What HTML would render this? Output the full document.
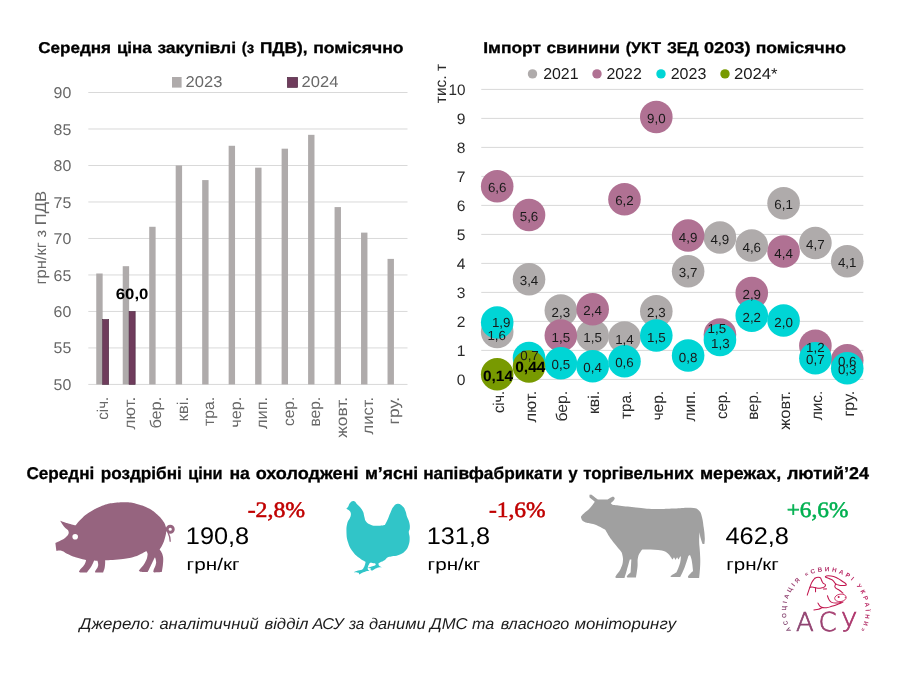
<!DOCTYPE html>
<html lang="uk"><head><meta charset="utf-8"><title>АСУ</title><style>html,body{margin:0;padding:0;background:#fff}svg{display:block}</style></head><body>
<svg width="919" height="681" viewBox="0 0 919 681" font-family='"Liberation Sans", sans-serif' text-rendering="geometricPrecision">
<rect width="919" height="681" fill="#fff"/>
<rect x="88.3" y="92.00" width="319.2" height="1" fill="#D9D9D9"/>
<text x="53.60" y="98.05" font-size="15.6" fill="#686868" textLength="17.70" lengthAdjust="spacingAndGlyphs">90</text>
<rect x="88.3" y="128.49" width="319.2" height="1" fill="#D9D9D9"/>
<text x="53.60" y="134.54" font-size="15.6" fill="#686868" textLength="17.70" lengthAdjust="spacingAndGlyphs">85</text>
<rect x="88.3" y="164.98" width="319.2" height="1" fill="#D9D9D9"/>
<text x="53.60" y="171.03" font-size="15.6" fill="#686868" textLength="17.70" lengthAdjust="spacingAndGlyphs">80</text>
<rect x="88.3" y="201.47" width="319.2" height="1" fill="#D9D9D9"/>
<text x="53.60" y="207.52" font-size="15.6" fill="#686868" textLength="17.70" lengthAdjust="spacingAndGlyphs">75</text>
<rect x="88.3" y="237.96" width="319.2" height="1" fill="#D9D9D9"/>
<text x="53.60" y="244.01" font-size="15.6" fill="#686868" textLength="17.70" lengthAdjust="spacingAndGlyphs">70</text>
<rect x="88.3" y="274.45" width="319.2" height="1" fill="#D9D9D9"/>
<text x="53.60" y="280.50" font-size="15.6" fill="#686868" textLength="17.70" lengthAdjust="spacingAndGlyphs">65</text>
<rect x="88.3" y="310.94" width="319.2" height="1" fill="#D9D9D9"/>
<text x="53.60" y="316.99" font-size="15.6" fill="#686868" textLength="17.70" lengthAdjust="spacingAndGlyphs">60</text>
<rect x="88.3" y="347.43" width="319.2" height="1" fill="#D9D9D9"/>
<text x="53.60" y="353.48" font-size="15.6" fill="#686868" textLength="17.70" lengthAdjust="spacingAndGlyphs">55</text>
<rect x="88.3" y="383.92" width="319.2" height="1" fill="#D9D9D9"/>
<text x="53.60" y="389.97" font-size="15.6" fill="#686868" textLength="17.70" lengthAdjust="spacingAndGlyphs">50</text>
<rect x="96.25" y="273.49" width="6.4" height="110.93" fill="#AFABAB"/>
<rect x="122.73" y="266.19" width="6.4" height="118.23" fill="#AFABAB"/>
<rect x="149.21" y="226.78" width="6.4" height="157.64" fill="#AFABAB"/>
<rect x="175.69" y="165.48" width="6.4" height="218.94" fill="#AFABAB"/>
<rect x="202.17" y="180.08" width="6.4" height="204.34" fill="#AFABAB"/>
<rect x="228.65" y="145.78" width="6.4" height="238.64" fill="#AFABAB"/>
<rect x="255.13" y="167.67" width="6.4" height="216.75" fill="#AFABAB"/>
<rect x="281.61" y="148.69" width="6.4" height="235.73" fill="#AFABAB"/>
<rect x="308.09" y="134.83" width="6.4" height="249.59" fill="#AFABAB"/>
<rect x="334.57" y="207.08" width="6.4" height="177.34" fill="#AFABAB"/>
<rect x="361.05" y="232.62" width="6.4" height="151.80" fill="#AFABAB"/>
<rect x="387.53" y="258.89" width="6.4" height="125.53" fill="#AFABAB"/>
<rect x="102.60" y="319.47" width="6.1" height="64.95" fill="#6F3C5C" stroke="#4B2740" stroke-width="0.6"/>
<rect x="129.08" y="311.44" width="6.1" height="72.98" fill="#6F3C5C" stroke="#4B2740" stroke-width="0.6"/>
<text x="108.10" y="419.70" font-size="15.6" fill="#686868" textLength="22.90" lengthAdjust="spacingAndGlyphs" transform="rotate(-90 108.10 419.70)">січ.</text>
<text x="134.59" y="429.50" font-size="15.6" fill="#686868" textLength="32.70" lengthAdjust="spacingAndGlyphs" transform="rotate(-90 134.59 429.50)">лют.</text>
<text x="161.08" y="428.60" font-size="15.6" fill="#686868" textLength="31.80" lengthAdjust="spacingAndGlyphs" transform="rotate(-90 161.08 428.60)">бер.</text>
<text x="187.57" y="421.60" font-size="15.6" fill="#686868" textLength="24.80" lengthAdjust="spacingAndGlyphs" transform="rotate(-90 187.57 421.60)">кві.</text>
<text x="214.06" y="425.90" font-size="15.6" fill="#686868" textLength="29.10" lengthAdjust="spacingAndGlyphs" transform="rotate(-90 214.06 425.90)">тра.</text>
<text x="240.55" y="427.80" font-size="15.6" fill="#686868" textLength="31.00" lengthAdjust="spacingAndGlyphs" transform="rotate(-90 240.55 427.80)">чер.</text>
<text x="267.04" y="429.10" font-size="15.6" fill="#686868" textLength="32.30" lengthAdjust="spacingAndGlyphs" transform="rotate(-90 267.04 429.10)">лип.</text>
<text x="293.53" y="425.90" font-size="15.6" fill="#686868" textLength="29.10" lengthAdjust="spacingAndGlyphs" transform="rotate(-90 293.53 425.90)">сер.</text>
<text x="320.02" y="426.60" font-size="15.6" fill="#686868" textLength="29.80" lengthAdjust="spacingAndGlyphs" transform="rotate(-90 320.02 426.60)">вер.</text>
<text x="346.51" y="437.80" font-size="15.6" fill="#686868" textLength="41.00" lengthAdjust="spacingAndGlyphs" transform="rotate(-90 346.51 437.80)">жовт.</text>
<text x="373.00" y="434.60" font-size="15.6" fill="#686868" textLength="37.80" lengthAdjust="spacingAndGlyphs" transform="rotate(-90 373.00 434.60)">лист.</text>
<text x="399.49" y="424.40" font-size="15.6" fill="#686868" textLength="27.60" lengthAdjust="spacingAndGlyphs" transform="rotate(-90 399.49 424.40)">гру.</text>
<text x="45.85" y="284.50" font-size="15.6" fill="#686868" textLength="93.50" lengthAdjust="spacingAndGlyphs" transform="rotate(-90 45.85 284.50)">грн/кг з ПДВ</text>
<rect x="172" y="77" width="9.6" height="10.6" fill="#AFABAB"/>
<text x="185.60" y="87.00" font-size="15.6" fill="#686868" textLength="36.80" lengthAdjust="spacingAndGlyphs">2023</text>
<rect x="287.3" y="77.3" width="10.4" height="10.2" fill="#6F3C5C" stroke="#4B2740" stroke-width="0.6"/>
<text x="301.60" y="87.00" font-size="15.6" fill="#686868" textLength="36.80" lengthAdjust="spacingAndGlyphs">2024</text>
<text x="115.80" y="298.75" font-size="15" fill="#000" textLength="32.60" lengthAdjust="spacingAndGlyphs" font-weight="bold">60,0</text>
<text x="38.15" y="53.00" font-size="15.7" fill="#000" textLength="72.95" lengthAdjust="spacingAndGlyphs" font-weight="bold" stroke="#000" stroke-width="0.3">Середня</text>
<text x="116.90" y="53.00" font-size="15.7" fill="#000" textLength="34.95" lengthAdjust="spacingAndGlyphs" font-weight="bold" stroke="#000" stroke-width="0.3">ціна</text>
<text x="157.40" y="53.00" font-size="15.7" fill="#000" textLength="78.70" lengthAdjust="spacingAndGlyphs" font-weight="bold" stroke="#000" stroke-width="0.3">закупівлі</text>
<text x="241.70" y="53.00" font-size="15.7" fill="#000" textLength="12.40" lengthAdjust="spacingAndGlyphs" font-weight="bold" stroke="#000" stroke-width="0.3">(з</text>
<text x="259.90" y="53.00" font-size="15.7" fill="#000" textLength="47.70" lengthAdjust="spacingAndGlyphs" font-weight="bold" stroke="#000" stroke-width="0.3">ПДВ),</text>
<text x="313.15" y="53.00" font-size="15.7" fill="#000" textLength="90.45" lengthAdjust="spacingAndGlyphs" font-weight="bold" stroke="#000" stroke-width="0.3">помісячно</text>
<rect x="481.25" y="378.90" width="382.1" height="1" fill="#D9D9D9"/>
<rect x="481.25" y="349.90" width="382.1" height="1" fill="#D9D9D9"/>
<rect x="481.25" y="320.90" width="382.1" height="1" fill="#D9D9D9"/>
<rect x="481.25" y="291.90" width="382.1" height="1" fill="#D9D9D9"/>
<rect x="481.25" y="262.90" width="382.1" height="1" fill="#D9D9D9"/>
<rect x="481.25" y="233.90" width="382.1" height="1" fill="#D9D9D9"/>
<rect x="481.25" y="204.90" width="382.1" height="1" fill="#D9D9D9"/>
<rect x="481.25" y="175.90" width="382.1" height="1" fill="#D9D9D9"/>
<rect x="481.25" y="146.90" width="382.1" height="1" fill="#D9D9D9"/>
<rect x="481.25" y="117.90" width="382.1" height="1" fill="#D9D9D9"/>
<rect x="481.25" y="88.90" width="382.1" height="1" fill="#D9D9D9"/>
<text x="465.40" y="384.95" font-size="15.2" fill="#2b2b2b" textLength="8.70" lengthAdjust="spacingAndGlyphs" text-anchor="end">0</text>
<text x="465.40" y="355.95" font-size="15.2" fill="#2b2b2b" textLength="8.70" lengthAdjust="spacingAndGlyphs" text-anchor="end">1</text>
<text x="465.40" y="326.95" font-size="15.2" fill="#2b2b2b" textLength="8.70" lengthAdjust="spacingAndGlyphs" text-anchor="end">2</text>
<text x="465.40" y="297.95" font-size="15.2" fill="#2b2b2b" textLength="8.70" lengthAdjust="spacingAndGlyphs" text-anchor="end">3</text>
<text x="465.40" y="268.95" font-size="15.2" fill="#2b2b2b" textLength="8.70" lengthAdjust="spacingAndGlyphs" text-anchor="end">4</text>
<text x="465.40" y="239.95" font-size="15.2" fill="#2b2b2b" textLength="8.70" lengthAdjust="spacingAndGlyphs" text-anchor="end">5</text>
<text x="465.40" y="210.95" font-size="15.2" fill="#2b2b2b" textLength="8.70" lengthAdjust="spacingAndGlyphs" text-anchor="end">6</text>
<text x="465.40" y="181.95" font-size="15.2" fill="#2b2b2b" textLength="8.70" lengthAdjust="spacingAndGlyphs" text-anchor="end">7</text>
<text x="465.40" y="152.95" font-size="15.2" fill="#2b2b2b" textLength="8.70" lengthAdjust="spacingAndGlyphs" text-anchor="end">8</text>
<text x="465.40" y="123.95" font-size="15.2" fill="#2b2b2b" textLength="8.70" lengthAdjust="spacingAndGlyphs" text-anchor="end">9</text>
<text x="465.40" y="94.95" font-size="15.2" fill="#2b2b2b" textLength="17.00" lengthAdjust="spacingAndGlyphs" text-anchor="end">10</text>
<text x="445.75" y="103.20" font-size="15.6" fill="#2b2b2b" textLength="39.20" lengthAdjust="spacingAndGlyphs" transform="rotate(-90 445.75 103.20)">тис. т</text>
<circle cx="497.20" cy="332.00" r="16.3" fill="#AFABAB"/>
<circle cx="529.02" cy="279.25" r="16.3" fill="#AFABAB"/>
<circle cx="560.84" cy="310.50" r="16.3" fill="#AFABAB"/>
<circle cx="592.66" cy="335.50" r="16.3" fill="#AFABAB"/>
<circle cx="624.48" cy="337.50" r="16.3" fill="#AFABAB"/>
<circle cx="656.30" cy="311.25" r="16.3" fill="#AFABAB"/>
<circle cx="688.12" cy="271.25" r="16.3" fill="#AFABAB"/>
<circle cx="719.94" cy="237.50" r="16.3" fill="#AFABAB"/>
<circle cx="751.76" cy="245.50" r="16.3" fill="#AFABAB"/>
<circle cx="783.58" cy="203.25" r="16.3" fill="#AFABAB"/>
<circle cx="815.40" cy="243.00" r="16.3" fill="#AFABAB"/>
<circle cx="847.22" cy="261.25" r="16.3" fill="#AFABAB"/>
<circle cx="497.20" cy="186.25" r="16.3" fill="#B07193"/>
<circle cx="529.02" cy="215.00" r="16.3" fill="#B07193"/>
<circle cx="560.84" cy="335.50" r="16.3" fill="#B07193"/>
<circle cx="592.66" cy="309.25" r="16.3" fill="#B07193"/>
<circle cx="624.48" cy="199.25" r="16.3" fill="#B07193"/>
<circle cx="656.30" cy="117.00" r="16.3" fill="#B07193"/>
<circle cx="688.12" cy="235.50" r="16.3" fill="#B07193"/>
<circle cx="719.94" cy="334.50" r="16.3" fill="#B07193"/>
<circle cx="751.76" cy="293.00" r="16.3" fill="#B07193"/>
<circle cx="783.58" cy="251.50" r="16.3" fill="#B07193"/>
<circle cx="815.40" cy="345.75" r="16.3" fill="#B07193"/>
<circle cx="847.22" cy="360.25" r="16.3" fill="#B07193"/>
<circle cx="497.20" cy="322.50" r="16.3" fill="#00D5D5"/>
<circle cx="529.02" cy="358.00" r="16.3" fill="#00D5D5"/>
<circle cx="560.84" cy="363.25" r="16.3" fill="#00D5D5"/>
<circle cx="592.66" cy="366.25" r="16.3" fill="#00D5D5"/>
<circle cx="624.48" cy="361.25" r="16.3" fill="#00D5D5"/>
<circle cx="656.30" cy="335.50" r="16.3" fill="#00D5D5"/>
<circle cx="688.12" cy="355.50" r="16.3" fill="#00D5D5"/>
<circle cx="719.94" cy="340.00" r="16.3" fill="#00D5D5"/>
<circle cx="751.76" cy="315.75" r="16.3" fill="#00D5D5"/>
<circle cx="783.58" cy="320.50" r="16.3" fill="#00D5D5"/>
<circle cx="815.40" cy="358.25" r="16.3" fill="#00D5D5"/>
<circle cx="847.22" cy="368.25" r="16.3" fill="#00D5D5"/>
<circle cx="497.20" cy="374.25" r="16.3" fill="#789A01"/>
<circle cx="529.02" cy="366.50" r="16.3" fill="#789A01"/>
<text x="496.70" y="339.70" font-size="13.2" fill="#1a1a1a" textLength="18.60" lengthAdjust="spacingAndGlyphs" text-anchor="middle">1,6</text>
<text x="529.02" y="285.45" font-size="13.2" fill="#1a1a1a" textLength="18.60" lengthAdjust="spacingAndGlyphs" text-anchor="middle">3,4</text>
<text x="560.84" y="316.70" font-size="13.2" fill="#1a1a1a" textLength="18.60" lengthAdjust="spacingAndGlyphs" text-anchor="middle">2,3</text>
<text x="592.66" y="341.70" font-size="13.2" fill="#1a1a1a" textLength="18.60" lengthAdjust="spacingAndGlyphs" text-anchor="middle">1,5</text>
<text x="624.48" y="343.70" font-size="13.2" fill="#1a1a1a" textLength="18.60" lengthAdjust="spacingAndGlyphs" text-anchor="middle">1,4</text>
<text x="656.30" y="317.45" font-size="13.2" fill="#1a1a1a" textLength="18.60" lengthAdjust="spacingAndGlyphs" text-anchor="middle">2,3</text>
<text x="688.12" y="277.45" font-size="13.2" fill="#1a1a1a" textLength="18.60" lengthAdjust="spacingAndGlyphs" text-anchor="middle">3,7</text>
<text x="719.94" y="243.70" font-size="13.2" fill="#1a1a1a" textLength="18.60" lengthAdjust="spacingAndGlyphs" text-anchor="middle">4,9</text>
<text x="751.76" y="251.70" font-size="13.2" fill="#1a1a1a" textLength="18.60" lengthAdjust="spacingAndGlyphs" text-anchor="middle">4,6</text>
<text x="783.58" y="209.45" font-size="13.2" fill="#1a1a1a" textLength="18.60" lengthAdjust="spacingAndGlyphs" text-anchor="middle">6,1</text>
<text x="815.40" y="249.20" font-size="13.2" fill="#1a1a1a" textLength="18.60" lengthAdjust="spacingAndGlyphs" text-anchor="middle">4,7</text>
<text x="847.22" y="267.45" font-size="13.2" fill="#1a1a1a" textLength="18.60" lengthAdjust="spacingAndGlyphs" text-anchor="middle">4,1</text>
<text x="497.20" y="192.45" font-size="13.2" fill="#1a1a1a" textLength="18.60" lengthAdjust="spacingAndGlyphs" text-anchor="middle">6,6</text>
<text x="529.02" y="221.20" font-size="13.2" fill="#1a1a1a" textLength="18.60" lengthAdjust="spacingAndGlyphs" text-anchor="middle">5,6</text>
<text x="560.84" y="341.70" font-size="13.2" fill="#1a1a1a" textLength="18.60" lengthAdjust="spacingAndGlyphs" text-anchor="middle">1,5</text>
<text x="592.66" y="315.45" font-size="13.2" fill="#1a1a1a" textLength="18.60" lengthAdjust="spacingAndGlyphs" text-anchor="middle">2,4</text>
<text x="624.48" y="205.45" font-size="13.2" fill="#1a1a1a" textLength="18.60" lengthAdjust="spacingAndGlyphs" text-anchor="middle">6,2</text>
<text x="656.30" y="123.20" font-size="13.2" fill="#1a1a1a" textLength="18.60" lengthAdjust="spacingAndGlyphs" text-anchor="middle">9,0</text>
<text x="688.12" y="241.70" font-size="13.2" fill="#1a1a1a" textLength="18.60" lengthAdjust="spacingAndGlyphs" text-anchor="middle">4,9</text>
<text x="716.94" y="332.70" font-size="13.2" fill="#1a1a1a" textLength="18.60" lengthAdjust="spacingAndGlyphs" text-anchor="middle">1,5</text>
<text x="751.76" y="299.20" font-size="13.2" fill="#1a1a1a" textLength="18.60" lengthAdjust="spacingAndGlyphs" text-anchor="middle">2,9</text>
<text x="783.58" y="257.70" font-size="13.2" fill="#1a1a1a" textLength="18.60" lengthAdjust="spacingAndGlyphs" text-anchor="middle">4,4</text>
<text x="815.40" y="351.95" font-size="13.2" fill="#1a1a1a" textLength="18.60" lengthAdjust="spacingAndGlyphs" text-anchor="middle">1,2</text>
<text x="847.22" y="366.45" font-size="13.2" fill="#1a1a1a" textLength="18.60" lengthAdjust="spacingAndGlyphs" text-anchor="middle">0,6</text>
<text x="501.20" y="326.70" font-size="13.2" fill="#1a1a1a" textLength="18.60" lengthAdjust="spacingAndGlyphs" text-anchor="middle">1,9</text>
<text x="529.52" y="360.20" font-size="13.2" fill="#1a1a1a" textLength="18.60" lengthAdjust="spacingAndGlyphs" text-anchor="middle">0,7</text>
<text x="560.84" y="369.45" font-size="13.2" fill="#1a1a1a" textLength="18.60" lengthAdjust="spacingAndGlyphs" text-anchor="middle">0,5</text>
<text x="592.66" y="372.45" font-size="13.2" fill="#1a1a1a" textLength="18.60" lengthAdjust="spacingAndGlyphs" text-anchor="middle">0,4</text>
<text x="624.48" y="367.45" font-size="13.2" fill="#1a1a1a" textLength="18.60" lengthAdjust="spacingAndGlyphs" text-anchor="middle">0,6</text>
<text x="656.30" y="341.70" font-size="13.2" fill="#1a1a1a" textLength="18.60" lengthAdjust="spacingAndGlyphs" text-anchor="middle">1,5</text>
<text x="688.12" y="361.70" font-size="13.2" fill="#1a1a1a" textLength="18.60" lengthAdjust="spacingAndGlyphs" text-anchor="middle">0,8</text>
<text x="720.34" y="347.70" font-size="13.2" fill="#1a1a1a" textLength="18.60" lengthAdjust="spacingAndGlyphs" text-anchor="middle">1,3</text>
<text x="751.76" y="321.95" font-size="13.2" fill="#1a1a1a" textLength="18.60" lengthAdjust="spacingAndGlyphs" text-anchor="middle">2,2</text>
<text x="783.58" y="326.70" font-size="13.2" fill="#1a1a1a" textLength="18.60" lengthAdjust="spacingAndGlyphs" text-anchor="middle">2,0</text>
<text x="815.40" y="364.45" font-size="13.2" fill="#1a1a1a" textLength="18.60" lengthAdjust="spacingAndGlyphs" text-anchor="middle">0,7</text>
<text x="847.22" y="374.45" font-size="13.2" fill="#1a1a1a" textLength="18.60" lengthAdjust="spacingAndGlyphs" text-anchor="middle">0,3</text>
<text x="483.00" y="380.60" font-size="15" fill="#000" textLength="30.00" lengthAdjust="spacingAndGlyphs" font-weight="bold">0,14</text>
<text x="515.20" y="372.30" font-size="15" fill="#000" textLength="30.30" lengthAdjust="spacingAndGlyphs" font-weight="bold">0,44</text>
<text x="503.80" y="413.10" font-size="15.6" fill="#2b2b2b" textLength="22.30" lengthAdjust="spacingAndGlyphs" transform="rotate(-90 503.80 413.10)">січ.</text>
<text x="535.62" y="422.50" font-size="15.6" fill="#2b2b2b" textLength="31.70" lengthAdjust="spacingAndGlyphs" transform="rotate(-90 535.62 422.50)">лют.</text>
<text x="567.44" y="421.60" font-size="15.6" fill="#2b2b2b" textLength="30.80" lengthAdjust="spacingAndGlyphs" transform="rotate(-90 567.44 421.60)">бер.</text>
<text x="599.26" y="414.10" font-size="15.6" fill="#2b2b2b" textLength="23.30" lengthAdjust="spacingAndGlyphs" transform="rotate(-90 599.26 414.10)">кві.</text>
<text x="631.08" y="419.10" font-size="15.6" fill="#2b2b2b" textLength="28.30" lengthAdjust="spacingAndGlyphs" transform="rotate(-90 631.08 419.10)">тра.</text>
<text x="662.90" y="420.60" font-size="15.6" fill="#2b2b2b" textLength="29.80" lengthAdjust="spacingAndGlyphs" transform="rotate(-90 662.90 420.60)">чер.</text>
<text x="694.72" y="421.60" font-size="15.6" fill="#2b2b2b" textLength="30.80" lengthAdjust="spacingAndGlyphs" transform="rotate(-90 694.72 421.60)">лип.</text>
<text x="726.54" y="419.10" font-size="15.6" fill="#2b2b2b" textLength="28.30" lengthAdjust="spacingAndGlyphs" transform="rotate(-90 726.54 419.10)">сер.</text>
<text x="758.36" y="419.80" font-size="15.6" fill="#2b2b2b" textLength="29.00" lengthAdjust="spacingAndGlyphs" transform="rotate(-90 758.36 419.80)">вер.</text>
<text x="790.18" y="429.80" font-size="15.6" fill="#2b2b2b" textLength="39.00" lengthAdjust="spacingAndGlyphs" transform="rotate(-90 790.18 429.80)">жовт.</text>
<text x="822.00" y="420.30" font-size="15.6" fill="#2b2b2b" textLength="29.50" lengthAdjust="spacingAndGlyphs" transform="rotate(-90 822.00 420.30)">лис.</text>
<text x="853.82" y="416.60" font-size="15.6" fill="#2b2b2b" textLength="25.80" lengthAdjust="spacingAndGlyphs" transform="rotate(-90 853.82 416.60)">гру.</text>
<circle cx="532.5" cy="73.9" r="4.7" fill="#AFABAB"/>
<circle cx="597" cy="73.9" r="4.7" fill="#B07193"/>
<circle cx="661" cy="73.9" r="4.7" fill="#00D5D5"/>
<circle cx="725" cy="73.9" r="4.7" fill="#789A01"/>
<text x="543.15" y="78.90" font-size="15.6" fill="#1a1a1a" textLength="35.45" lengthAdjust="spacingAndGlyphs">2021</text>
<text x="606.40" y="78.90" font-size="15.6" fill="#1a1a1a" textLength="35.45" lengthAdjust="spacingAndGlyphs">2022</text>
<text x="670.65" y="78.90" font-size="15.6" fill="#1a1a1a" textLength="35.70" lengthAdjust="spacingAndGlyphs">2023</text>
<text x="733.90" y="78.90" font-size="15.6" fill="#1a1a1a" textLength="43.70" lengthAdjust="spacingAndGlyphs">2024*</text>
<text x="483.15" y="53.00" font-size="15.7" fill="#000" textLength="57.95" lengthAdjust="spacingAndGlyphs" font-weight="bold" stroke="#000" stroke-width="0.3">Імпорт</text>
<text x="546.40" y="53.00" font-size="15.7" fill="#000" textLength="73.70" lengthAdjust="spacingAndGlyphs" font-weight="bold" stroke="#000" stroke-width="0.3">свинини</text>
<text x="625.65" y="53.00" font-size="15.7" fill="#000" textLength="35.45" lengthAdjust="spacingAndGlyphs" font-weight="bold" stroke="#000" stroke-width="0.3">(УКТ</text>
<text x="666.90" y="53.00" font-size="15.7" fill="#000" textLength="31.70" lengthAdjust="spacingAndGlyphs" font-weight="bold" stroke="#000" stroke-width="0.3">ЗЕД</text>
<text x="703.90" y="53.00" font-size="15.7" fill="#000" textLength="46.70" lengthAdjust="spacingAndGlyphs" font-weight="bold" stroke="#000" stroke-width="0.3">0203)</text>
<text x="755.65" y="53.00" font-size="15.7" fill="#000" textLength="90.45" lengthAdjust="spacingAndGlyphs" font-weight="bold" stroke="#000" stroke-width="0.3">помісячно</text>
<text x="26.40" y="479.25" font-size="17.1" fill="#000" textLength="67.95" lengthAdjust="spacingAndGlyphs" font-weight="bold" stroke="#000" stroke-width="0.3">Середні</text>
<text x="100.65" y="479.25" font-size="17.1" fill="#000" textLength="81.20" lengthAdjust="spacingAndGlyphs" font-weight="bold" stroke="#000" stroke-width="0.3">роздрібні</text>
<text x="188.15" y="479.25" font-size="17.1" fill="#000" textLength="34.45" lengthAdjust="spacingAndGlyphs" font-weight="bold" stroke="#000" stroke-width="0.3">ціни</text>
<text x="229.40" y="479.25" font-size="17.1" fill="#000" textLength="20.50" lengthAdjust="spacingAndGlyphs" font-weight="bold" stroke="#000" stroke-width="0.3">на</text>
<text x="255.65" y="479.25" font-size="17.1" fill="#000" textLength="102.95" lengthAdjust="spacingAndGlyphs" font-weight="bold" stroke="#000" stroke-width="0.3">охолоджені</text>
<text x="364.90" y="479.25" font-size="17.1" fill="#000" textLength="53.20" lengthAdjust="spacingAndGlyphs" font-weight="bold" stroke="#000" stroke-width="0.3">м’ясні</text>
<text x="423.15" y="479.25" font-size="17.1" fill="#000" textLength="139.45" lengthAdjust="spacingAndGlyphs" font-weight="bold" stroke="#000" stroke-width="0.3">напівфабрикати</text>
<text x="568.15" y="479.25" font-size="17.1" fill="#000" textLength="9.45" lengthAdjust="spacingAndGlyphs" font-weight="bold" stroke="#000" stroke-width="0.3">у</text>
<text x="583.15" y="479.25" font-size="17.1" fill="#000" textLength="110.45" lengthAdjust="spacingAndGlyphs" font-weight="bold" stroke="#000" stroke-width="0.3">торгівельних</text>
<text x="699.90" y="479.25" font-size="17.1" fill="#000" textLength="81.20" lengthAdjust="spacingAndGlyphs" font-weight="bold" stroke="#000" stroke-width="0.3">мережах,</text>
<text x="786.90" y="479.25" font-size="17.1" fill="#000" textLength="82.20" lengthAdjust="spacingAndGlyphs" font-weight="bold" stroke="#000" stroke-width="0.3">лютий’24</text>
<path d="M60.19 520.75C60.19 520.75 64.28 522.25 67.68 523.29C71.15 524.35 75.46 525.41 75.46 525.41C75.46 525.41 78.98 520.75 82.54 517.63C86.66 514.03 87.72 513.33 92.44 510.56C97.30 507.71 98.42 507.02 103.76 505.19C108.68 503.49 109.91 503.43 115.07 502.78C120.13 502.15 121.30 502.04 126.39 502.36C131.54 502.68 132.72 502.86 137.71 504.20C142.96 505.61 144.23 505.87 149.02 508.44C153.23 510.69 153.96 511.61 157.51 514.80C160.36 517.37 160.96 518.04 163.17 521.17C164.68 523.31 165.03 523.88 165.72 526.40C166.39 528.87 166.33 529.52 166.14 532.06C165.94 534.85 165.64 535.46 164.87 538.15C163.98 541.20 163.80 541.91 162.46 544.79C161.43 547.02 159.63 549.46 159.63 549.46C159.63 549.46 161.74 551.95 162.46 554.41C163.37 557.48 163.30 558.29 163.17 561.49C162.98 566.30 161.76 572.10 161.76 572.10C161.76 572.10 154.68 572.52 154.68 572.52C154.68 572.52 153.15 572.20 153.27 571.39C153.74 568.18 155.62 566.90 156.10 562.90C156.41 560.32 154.97 557.24 154.97 557.24C154.97 557.24 153.40 560.35 152.14 562.90C150.09 567.04 147.61 572.10 147.61 572.10C147.61 572.10 140.25 571.67 140.25 571.67C140.25 571.67 138.48 571.37 138.84 570.68C140.35 567.76 142.69 566.78 144.78 562.90C146.69 559.36 147.14 558.41 147.61 554.41C147.81 552.71 146.19 550.88 146.19 550.88C146.19 550.88 140.28 554.74 134.88 556.54C128.72 558.59 127.17 558.54 120.73 559.37C113.77 560.26 105.17 560.36 105.17 560.36C105.17 560.36 105.27 564.13 104.75 567.15C104.31 569.65 103.05 572.52 103.05 572.52C103.05 572.52 95.98 572.52 95.98 572.52C95.98 572.52 94.82 572.34 94.99 571.81C95.69 569.55 97.44 568.74 98.10 565.73C98.58 563.53 97.39 560.78 97.39 560.78C97.39 560.78 94.14 560.50 94.14 560.50C94.14 560.50 93.08 563.52 91.73 565.73C89.76 568.96 86.78 572.52 86.78 572.52C86.78 572.52 80.41 572.52 80.41 572.52C80.41 572.52 78.63 572.11 79.00 571.39C80.41 568.65 82.50 567.77 84.66 564.32C85.73 562.61 86.07 560.07 86.07 560.07C86.07 560.07 80.15 558.81 75.46 557.24C71.54 555.94 70.71 555.48 66.98 553.71C64.66 552.61 64.50 551.54 62.02 550.88C59.56 550.22 56.37 550.88 56.37 550.88C56.37 550.88 55.38 543.10 55.38 543.10C55.38 543.10 58.32 541.82 60.61 540.55C62.91 539.27 63.75 539.35 65.56 537.44C67.49 535.41 69.04 534.83 68.67 532.06C68.26 528.98 66.01 529.32 64.15 526.83C62.19 524.22 60.19 520.75 60.19 520.75Z" fill="#96647F"/>
<circle cx="170.24" cy="529.23" r="3.05" fill="none" stroke="#96647F" stroke-width="2.9"/>
<path d="M168.12 532.91 Q170.24 536.73 170.24 541.68" fill="none" stroke="#96647F" stroke-width="1.3"/>
<circle cx="75.18" cy="536.73" r="2.8" fill="#fff"/>
<path d="M346.23 508.98C346.23 508.98 347.42 507.93 348.11 506.86C349.12 505.27 348.68 504.47 349.98 503.11C351.32 501.71 351.80 500.75 353.72 500.99C355.66 501.24 355.46 502.62 356.84 503.99C358.43 505.55 358.96 505.74 360.34 507.48C361.78 509.30 362.18 509.72 363.09 511.85C364.00 513.98 363.64 514.63 364.33 516.84C365.05 519.14 364.66 520.01 366.21 521.84C367.92 523.86 368.70 524.10 371.20 524.96C373.87 525.88 374.61 525.71 377.44 525.71C380.83 525.71 384.93 524.96 384.93 524.96C384.93 524.96 386.40 522.26 387.43 519.97C388.93 516.64 389.01 515.79 390.55 512.48C391.83 509.72 391.69 508.79 393.67 506.48C395.18 504.72 395.72 503.65 398.04 503.74C400.69 503.84 401.16 504.99 403.03 506.86C404.63 508.46 404.69 509.13 405.53 511.23C406.50 513.66 406.20 514.36 407.03 516.84C407.89 519.43 408.65 519.81 409.27 522.46C409.90 525.10 409.92 525.75 409.77 528.45C409.69 530.03 408.80 530.24 408.77 531.82C408.74 534.38 409.67 534.88 409.65 537.44C409.61 540.84 409.76 541.72 408.65 544.93C407.58 548.03 407.22 548.86 404.90 551.17C402.59 553.49 401.72 553.75 398.66 554.92C395.45 556.14 394.53 555.67 391.17 556.42C389.47 556.79 388.95 556.56 387.43 557.41C386.04 558.19 386.25 559.03 384.93 559.91C382.84 561.30 382.02 561.37 379.94 562.41C379.38 562.69 378.69 563.03 378.69 563.03C378.69 563.03 378.26 564.63 378.94 565.53C379.84 566.71 381.81 567.15 381.81 567.15C381.81 567.15 379.30 566.98 377.44 567.65C375.00 568.53 372.45 570.52 372.45 570.52C372.45 570.52 370.99 570.52 370.58 569.90C370.23 569.37 371.20 568.65 371.20 568.65C371.20 568.65 368.08 567.65 368.08 567.65C368.08 567.65 370.50 566.87 372.45 566.15C373.87 565.63 374.74 565.86 375.57 564.90C376.08 564.31 374.95 563.28 374.95 563.28C374.95 563.28 369.95 562.66 369.95 562.66C369.95 562.66 367.71 565.82 367.71 568.65C367.71 570.16 369.95 571.15 369.95 571.15C369.95 571.15 367.47 570.82 365.58 571.39C362.60 572.31 359.34 574.39 359.34 574.39C359.34 574.39 358.72 572.64 358.72 572.64C358.72 572.64 353.72 572.14 353.72 572.14C353.72 572.14 356.13 571.25 358.09 570.52C360.34 569.68 361.52 570.47 363.09 568.65C365.23 566.15 365.58 561.78 365.58 561.78C365.58 561.78 361.56 559.72 358.72 557.41C355.63 554.91 354.77 554.41 352.48 551.17C349.93 547.59 349.45 546.62 348.11 542.43C346.72 538.10 346.63 537.00 346.48 532.45C346.34 527.93 346.37 526.84 347.48 522.46C348.26 519.42 349.92 519.29 350.60 516.22C351.09 514.01 351.15 513.17 349.98 511.23C348.96 509.55 346.23 508.98 346.23 508.98Z" fill="#31C5C8"/>
<path d="M589.47 494.86C589.47 494.86 591.15 494.40 591.15 494.40C591.15 494.40 597.85 499.43 597.85 499.43C597.85 499.43 607.75 499.43 607.75 499.43C607.75 499.43 612.32 496.84 612.32 496.84C612.32 496.84 613.76 496.69 614.31 497.45C614.87 498.22 614.80 498.76 614.31 499.58C613.14 501.51 610.80 503.23 610.80 503.23C610.80 503.23 612.32 504.76 612.32 504.76C612.32 504.76 625.30 506.42 635.94 507.50C644.15 508.34 645.97 508.79 654.22 509.02C663.13 509.27 665.11 508.77 674.02 508.57C682.94 508.36 685.45 507.35 693.83 508.11C696.52 508.35 697.27 508.93 699.16 510.85C701.03 512.76 701.05 513.61 701.75 516.18C703.13 521.22 703.02 522.44 703.73 527.61C704.39 532.39 704.62 533.45 704.80 538.27C704.90 540.89 704.34 544.06 704.34 544.06C704.34 544.06 702.67 544.06 702.67 544.06C702.67 544.06 701.37 540.94 700.69 538.27C699.99 535.58 699.62 532.18 699.62 532.18C699.62 532.18 699.10 537.20 699.16 541.32C699.24 546.13 699.70 547.18 699.92 551.99C700.18 557.47 700.39 558.69 700.23 564.17C700.05 570.36 699.16 577.88 699.16 577.88C699.16 577.88 688.50 577.88 688.50 577.88C688.50 577.88 687.64 576.96 688.04 576.36C689.56 574.08 693.07 571.03 693.07 571.03C693.07 571.03 692.52 564.70 691.54 559.60C691.14 557.47 690.02 555.03 690.02 555.03C690.02 555.03 688.50 555.79 688.50 555.79C688.50 555.79 686.67 562.18 684.69 567.22C682.89 571.79 680.12 577.12 680.12 577.12C680.12 577.12 670.98 577.12 670.98 577.12C670.98 577.12 670.29 576.38 670.67 576.06C672.45 574.53 676.31 572.55 676.31 572.55C676.31 572.55 678.81 567.24 680.12 562.65C680.88 559.99 680.88 556.56 680.88 556.56C680.88 556.56 680.12 556.56 680.12 556.56C680.12 556.56 678.60 559.60 678.60 559.60C678.60 559.60 677.07 557.32 677.07 557.32C677.07 557.32 675.55 559.91 675.55 559.91C675.55 559.91 674.02 557.32 674.02 557.32C674.02 557.32 672.50 559.60 672.50 559.60C672.50 559.60 670.98 557.32 670.98 557.32C670.98 557.32 669.69 554.83 667.93 553.51C665.48 551.67 664.87 550.91 661.84 550.46C653.20 549.19 642.03 549.70 642.03 549.70C642.03 549.70 639.11 553.14 638.22 556.56C637.01 561.21 637.98 562.44 637.46 567.22C636.95 571.90 635.94 577.58 635.94 577.58C635.94 577.58 627.56 577.58 627.56 577.58C627.56 577.58 626.46 576.91 626.80 576.36C627.81 574.68 630.61 572.55 630.61 572.55C630.61 572.55 631.37 559.60 631.37 559.60C631.37 559.60 629.84 559.60 629.84 559.60C629.84 559.60 628.20 565.48 626.80 570.27C625.80 573.70 624.51 577.88 624.51 577.88C624.51 577.88 616.13 577.88 616.13 577.88C616.13 577.88 615.08 577.24 615.37 576.67C616.90 573.62 618.95 572.67 620.70 568.74C622.43 564.87 622.80 563.84 622.99 559.60C623.15 556.11 621.47 551.99 621.47 551.99C621.47 551.99 615.71 545.52 611.56 539.80C608.49 535.56 605.47 529.90 605.47 529.90C605.47 529.90 599.82 526.46 594.80 524.56C590.17 522.81 588.57 524.04 584.14 521.82C582.08 520.79 581.86 519.84 581.09 517.71C580.73 516.69 581.12 516.22 581.86 515.42C584.90 512.12 586.74 511.51 590.23 507.80C592.59 505.31 594.80 501.71 594.80 501.71C594.80 501.71 589.47 497.14 589.47 497.14C589.47 497.14 589.47 494.86 589.47 494.86Z" fill="#A0A0A0"/>
<text x="185.80" y="543.75" font-size="24" fill="#000" textLength="63.40" lengthAdjust="spacingAndGlyphs">190,8</text>
<text x="186.60" y="569.50" font-size="16.8" fill="#000" textLength="53.05" lengthAdjust="spacingAndGlyphs">грн/кг</text>
<text x="426.80" y="543.75" font-size="24" fill="#000" textLength="63.15" lengthAdjust="spacingAndGlyphs">131,8</text>
<text x="427.60" y="569.50" font-size="16.8" fill="#000" textLength="52.80" lengthAdjust="spacingAndGlyphs">грн/кг</text>
<text x="725.50" y="543.75" font-size="24" fill="#000" textLength="63.45" lengthAdjust="spacingAndGlyphs">462,8</text>
<text x="726.30" y="569.50" font-size="16.8" fill="#000" textLength="52.60" lengthAdjust="spacingAndGlyphs">грн/кг</text>
<text x="247.65" y="516.75" font-size="22" fill="#C00000" textLength="57.45" lengthAdjust="spacingAndGlyphs" font-family='"Liberation Serif", serif' stroke="#C00000" stroke-width="0.55">-2,8%</text>
<text x="488.90" y="516.75" font-size="22" fill="#C00000" textLength="56.70" lengthAdjust="spacingAndGlyphs" font-family='"Liberation Serif", serif' stroke="#C00000" stroke-width="0.55">-1,6%</text>
<text x="786.65" y="516.75" font-size="22" fill="#00B050" textLength="61.70" lengthAdjust="spacingAndGlyphs" font-family='"Liberation Serif", serif' stroke="#00B050" stroke-width="0.55">+6,6%</text>
<text x="79.60" y="629.25" font-size="15.7" fill="#1c1c1c" textLength="74.75" lengthAdjust="spacingAndGlyphs" font-style="italic">Джерело:</text>
<text x="159.40" y="629.25" font-size="15.7" fill="#1c1c1c" textLength="99.20" lengthAdjust="spacingAndGlyphs" font-style="italic">аналітичний</text>
<text x="264.40" y="629.25" font-size="15.7" fill="#1c1c1c" textLength="44.20" lengthAdjust="spacingAndGlyphs" font-style="italic">відділ</text>
<text x="312.40" y="629.25" font-size="15.7" fill="#1c1c1c" textLength="31.20" lengthAdjust="spacingAndGlyphs" font-style="italic">АСУ</text>
<text x="348.90" y="629.25" font-size="15.7" fill="#1c1c1c" textLength="15.45" lengthAdjust="spacingAndGlyphs" font-style="italic">за</text>
<text x="368.90" y="629.25" font-size="15.7" fill="#1c1c1c" textLength="56.70" lengthAdjust="spacingAndGlyphs" font-style="italic">даними</text>
<text x="429.90" y="629.25" font-size="15.7" fill="#1c1c1c" textLength="37.70" lengthAdjust="spacingAndGlyphs" font-style="italic">ДМС</text>
<text x="472.10" y="629.25" font-size="15.7" fill="#1c1c1c" textLength="22.25" lengthAdjust="spacingAndGlyphs" font-style="italic">та</text>
<text x="500.65" y="629.25" font-size="15.7" fill="#1c1c1c" textLength="68.70" lengthAdjust="spacingAndGlyphs" font-style="italic">власного</text>
<text x="574.40" y="629.25" font-size="15.7" fill="#1c1c1c" textLength="101.70" lengthAdjust="spacingAndGlyphs" font-style="italic">моніторингу</text>
<defs><linearGradient id="lg" gradientUnits="userSpaceOnUse" x1="785" y1="635" x2="865" y2="575"><stop offset="0" stop-color="#7E4A73"/><stop offset="0.55" stop-color="#A83A6E"/><stop offset="1" stop-color="#C2185B"/></linearGradient></defs>
<path id="arc" d="M791.16 630.60 A39.8 39.8 0 1 1 860.78 629.99" fill="none"/>
<text font-size="6.2" font-weight="bold" fill="url(#lg)" letter-spacing="0"><textPath href="#arc" textLength="165.3" lengthAdjust="spacing">АСОЦІАЦІЯ «СВИНАРІ УКРАЇНИ»</textPath></text>
<text x="796" y="631.4" font-size="26" fill="url(#lg)" textLength="61" lengthAdjust="spacing" font-family='"DejaVu Sans Light", "DejaVu Sans", "Liberation Sans", sans-serif' font-weight="200" stroke="url(#lg)" stroke-width="0.7">АСУ</text>
<path d="M807.27 595.10C808.15 592.45 808.64 590.71 809.91 587.17C810.73 584.91 810.73 584.31 811.90 582.21C812.98 580.26 813.88 579.57 814.87 578.24" fill="none" stroke="#C2164E" stroke-width="1.05" stroke-linecap="round"/>
<path d="M814.87 578.24C814.87 578.24 817.73 576.78 819.83 577.58C821.45 578.20 820.93 579.39 821.81 580.89C822.42 581.92 822.32 582.32 823.13 583.20C824.00 584.14 825.01 583.65 825.45 584.85C825.79 585.79 825.23 586.21 824.45 586.84C823.47 587.64 823.06 587.58 821.81 587.83C820.06 588.18 819.63 588.30 817.85 588.16C815.72 588.00 815.33 587.43 813.22 587.17C811.74 586.98 811.02 587.17 809.91 587.17" fill="none" stroke="#C2164E" stroke-width="1.05" stroke-linecap="round"/>
<path d="M815.53 587.83C815.53 589.15 815.53 590.47 815.53 591.79" fill="none" stroke="#C2164E" stroke-width="1.05" stroke-linecap="round"/>
<path d="M825.45 576.46C826.11 575.58 828.54 575.61 831.06 575.93C833.86 576.28 834.46 576.71 837.01 577.91C839.55 579.11 840.02 579.59 842.30 581.22C844.19 582.57 845.83 583.09 846.27 584.52C846.64 585.74 844.89 585.40 843.62 585.51C841.54 585.70 841.04 585.61 839.00 585.18C837.43 584.86 836.95 584.85 835.69 583.86C834.19 582.69 834.53 581.75 833.05 580.56C831.49 579.31 830.84 579.52 829.08 578.58C827.42 577.68 824.79 577.34 825.45 576.46Z" fill="none" stroke="#C2164E" stroke-width="1.05" stroke-linecap="round"/>
<path d="M835.69 583.86C835.47 584.96 834.25 585.87 835.03 587.17C836.35 589.36 837.61 588.94 839.66 590.47C841.18 591.61 841.86 592.23 842.96 593.12" fill="none" stroke="#C2164E" stroke-width="1.05" stroke-linecap="round"/>
<path d="M827.43 595.76C827.98 597.08 828.03 598.10 829.08 599.73C830.00 601.14 830.17 601.72 831.73 602.37C833.94 603.29 834.61 603.03 837.01 603.03C838.82 603.03 839.66 602.59 840.98 602.37" fill="none" stroke="#C2164E" stroke-width="1.05" stroke-linecap="round"/>
<path d="M817.85 603.03C818.95 604.35 819.10 605.89 821.15 607.00C823.26 608.13 824.04 607.81 826.44 607.66C828.89 607.50 829.38 607.05 831.73 606.33C834.74 605.41 835.39 605.15 838.33 604.02C840.45 603.21 841.42 602.70 842.96 602.04" fill="none" stroke="#C2164E" stroke-width="1.05" stroke-linecap="round"/>
<path d="M813.88 609.97C815.42 609.75 816.49 609.90 818.51 609.31C820.10 608.84 820.71 608.21 821.81 607.66" fill="none" stroke="#C2164E" stroke-width="1.05" stroke-linecap="round"/>
<path d="M823.46 589.02C824.45 588.97 825.45 588.93 826.44 588.89" fill="none" stroke="#C2164E" stroke-width="1.05" stroke-linecap="round"/>
<ellipse cx="840.45" cy="597.87" rx="5.8" ry="3.7" transform="rotate(-8 840.45 597.87)" fill="none" stroke="#C4174F" stroke-width="0.8"/>
<circle cx="838.66" cy="597.08" r="1" fill="#C4174F"/>
<circle cx="845.27" cy="597.54" r="0.6" fill="#C4174F"/>
</svg>
</body></html>
